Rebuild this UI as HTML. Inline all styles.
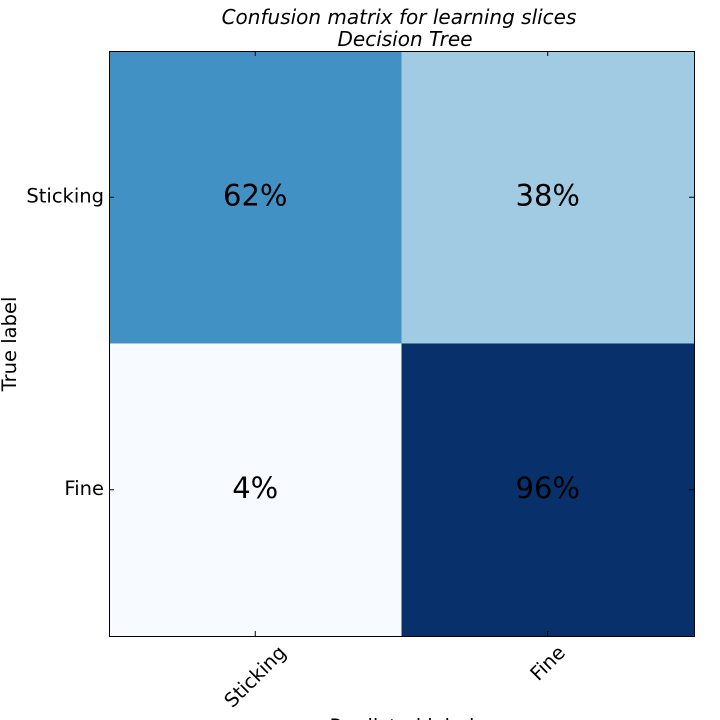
<!DOCTYPE html>
<html><head><meta charset="utf-8"><style>
html,body{margin:0;padding:0;background:#fff;width:720px;height:720px;overflow:hidden}
text{font-family:"DejaVu Sans","Liberation Sans",sans-serif}
</style></head><body>
<svg id="chart" width="720" height="720" xmlns="http://www.w3.org/2000/svg">
<text x="399" y="24" text-anchor="middle" font-size="20" font-style="italic">Confusion matrix for learning slices</text>
<text x="405" y="46" text-anchor="middle" font-size="20" font-style="italic">Decision Tree</text>
<g id="cells"></g>
<rect x="109.5" y="51.5" width="585" height="585" fill="none" stroke="#000" stroke-width="1"/>
<g id="ticks"></g>
<text transform="translate(16,344) rotate(-90)" text-anchor="middle" font-size="19.5">True label</text>
<text x="402" y="733" text-anchor="middle" font-size="19.5">Predicted label</text>
</svg>
<script>
const rowLabels = ["Sticking", "Fine"];
const colLabels = ["Sticking", "Fine"];
const rowSticking = [62, 38];
const rowFine = [4, 96];
const values = [rowSticking, rowFine];

const NS = "http://www.w3.org/2000/svg";
const x0 = 109, y0 = 51, size = 585;
const cw = size / colLabels.length, ch = size / rowLabels.length;
const xPos = i => x0 + i * cw;
const yPos = j => y0 + j * ch;
const blues = [[247,251,255],[222,235,247],[198,219,239],[158,202,225],[107,174,214],[66,146,198],[33,113,181],[8,81,156],[8,48,107]];
function color(t){
  t = Math.max(0, Math.min(1, t)) * (blues.length - 1);
  const i = Math.min(Math.floor(t), blues.length - 2), f = t - i;
  const c = blues[i].map((v,k)=>Math.round(v + (blues[i+1][k]-v)*f));
  return `rgb(${c[0]},${c[1]},${c[2]})`;
}
const all = values.flat();
const vmin = Math.min(...all), vmax = Math.max(...all);
const cells = document.getElementById("cells");
values.forEach((row, j) => row.forEach((v, i) => {
  const r = document.createElementNS(NS, "rect");
  r.setAttribute("x", xPos(i)); r.setAttribute("y", yPos(j));
  r.setAttribute("width", cw); r.setAttribute("height", ch);
  r.setAttribute("fill", color((v - vmin) / (vmax - vmin)));
  
  
  cells.appendChild(r);
  const t = document.createElementNS(NS, "text");
  t.setAttribute("x", xPos(i) + cw/2); t.setAttribute("y", yPos(j) + ch/2 + 8);
  t.setAttribute("text-anchor", "middle"); t.setAttribute("font-size", "29");
  t.setAttribute("fill", "#000");
  t.textContent = v + "%";
  
  
  cells.appendChild(t);
}));
const ticks = document.getElementById("ticks");
rowLabels.forEach((lab, j) => {
  const y = yPos(j) + ch/2;
  const l = document.createElementNS(NS, "path");
  l.setAttribute("d", `M${x0} ${y}h5M${x0+size} ${y}h-5`);
  l.setAttribute("stroke", "#000");
  
  
  ticks.appendChild(l);
  const t = document.createElementNS(NS, "text");
  t.setAttribute("x", x0 - 5); t.setAttribute("y", y + 5);
  t.setAttribute("text-anchor", "end"); t.setAttribute("font-size", "19.5");
  t.textContent = lab;
  
  
  ticks.appendChild(t);
});
colLabels.forEach((lab, i) => {
  const x = xPos(i) + cw/2;
  const l = document.createElementNS(NS, "path");
  l.setAttribute("d", `M${x} ${y0+size}v-5M${x} ${y0}v5`);
  l.setAttribute("stroke", "#000");
  
  
  ticks.appendChild(l);
  const g = document.createElementNS(NS, "g");
  
  
  const t = document.createElementNS(NS, "text");
  t.setAttribute("transform", "rotate(-45)");
  t.setAttribute("text-anchor", "middle"); t.setAttribute("font-size", "19.5");
  t.textContent = lab;
  
  
  g.appendChild(t);
  ticks.appendChild(g);
  const bb = g.getBBox();
  const dx = x - (bb.x + bb.width/2);
  const dy = (y0 + size + 5) - bb.y;
  g.setAttribute("transform", `translate(${dx},${dy})`);
});
</script>
</body></html>
